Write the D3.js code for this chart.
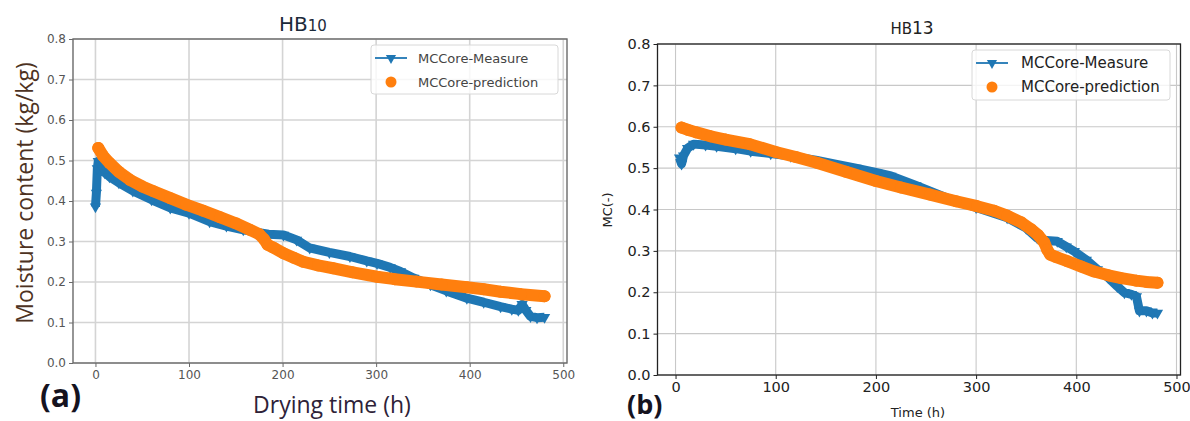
<!DOCTYPE html>
<html>
<head>
<meta charset="utf-8">
<script src="https://cdn.jsdelivr.net/npm/d3@7"></script>
<style>
  body { margin: 0; background: #fff; }
  svg { display: block; }
</style>
</head>
<body>
<svg id="chart" width="1190" height="421"></svg>
<script>
// HB10 - measured core moisture
const hb10MeasureTime = [0, 1, 2, 3, 5, 10, 15, 25, 40, 60, 80, 100, 122, 140, 158, 175, 185, 201, 215, 229, 250, 272, 290, 301, 315, 326, 340, 358, 375, 397, 415, 433, 445, 452, 456, 460, 465, 472, 480];
const hb10Measure = [0.386, 0.42, 0.48, 0.498, 0.49, 0.47, 0.46, 0.445, 0.425, 0.403, 0.383, 0.37, 0.349, 0.338, 0.329, 0.322, 0.318, 0.316, 0.304, 0.284, 0.273, 0.263, 0.252, 0.246, 0.236, 0.226, 0.21, 0.193, 0.178, 0.16, 0.15, 0.139, 0.133, 0.13, 0.145, 0.13, 0.115, 0.112, 0.113];
// HB10 - prediction
const hb10PredTime = [3, 8, 15, 25, 37, 50, 62, 80, 97, 115, 133, 150, 165, 175, 180, 184, 190, 201, 212, 222, 238, 254, 275, 301, 320, 343, 370, 397, 415, 433, 455, 480];
const hb10Pred = [0.531, 0.512, 0.494, 0.472, 0.452, 0.436, 0.424, 0.407, 0.391, 0.376, 0.36, 0.345, 0.329, 0.318, 0.306, 0.292, 0.285, 0.271, 0.26, 0.25, 0.241, 0.234, 0.224, 0.213, 0.207, 0.201, 0.194, 0.187, 0.182, 0.176, 0.17, 0.165];

// HB13 - measured core moisture
const hb13MeasureTime = [4, 6, 8, 12, 18, 30, 41, 60, 75, 95, 115, 140, 161, 180, 201, 215, 240, 271, 300, 331, 350, 361, 370, 381, 390, 398, 410, 421, 432, 441, 448, 455, 460, 463, 470, 476, 481];
const hb13Measure = [0.525, 0.51, 0.53, 0.548, 0.558, 0.556, 0.553, 0.547, 0.541, 0.535, 0.529, 0.519, 0.509, 0.5, 0.489, 0.481, 0.458, 0.428, 0.405, 0.38, 0.355, 0.331, 0.325, 0.323, 0.31, 0.299, 0.278, 0.255, 0.235, 0.214, 0.199, 0.195, 0.19, 0.155, 0.155, 0.15, 0.15];
// HB13 - prediction
const hb13PredTime = [6, 12, 20, 35, 50, 74, 100, 120, 141, 170, 200, 225, 254, 280, 301, 318, 331, 345, 355, 362, 368, 371, 374, 380, 391, 405, 418, 432, 445, 460, 470, 481];
const hb13Pred = [0.598, 0.593, 0.587, 0.577, 0.569, 0.558, 0.539, 0.527, 0.513, 0.491, 0.469, 0.453, 0.436, 0.42, 0.408, 0.397, 0.385, 0.369, 0.352, 0.338, 0.32, 0.303, 0.291, 0.285, 0.275, 0.262, 0.25, 0.241, 0.234, 0.228, 0.225, 0.223];

const xTicks = [0, 100, 200, 300, 400, 500];
const yTicks = [0, 0.1, 0.2, 0.3, 0.4, 0.5, 0.6, 0.7, 0.8];
const legendLabels = ['MCCore-Measure', 'MCCore-prediction'];

const BLUE = '#1f77b4';
const ORANGE = '#ff7f0e';

const svg = d3.select('#chart');
svg.append('rect').attr('width', 1190).attr('height', 421).attr('fill', '#fff');

class DryingPanel {
    constructor(_config, _measure, _pred) {
        this.config = _config;
        this.measure = _measure;
        this.pred = _pred;
        this.initVis();
    }

    initVis() {
        let vis = this;
        const c = vis.config;

        vis.xScale = d3.scaleLinear().domain(c.xDomain).range([c.left, c.right]);
        vis.yScale = d3.scaleLinear().domain([0, 0.8]).range([c.bottom, c.top]);

        vis.g = svg.append('g');

        // grid
        vis.g.append('g')
            .selectAll('line.vgrid')
            .data(xTicks)
            .join('line')
            .attr('x1', d => vis.xScale(d)).attr('x2', d => vis.xScale(d))
            .attr('y1', c.top).attr('y2', c.bottom)
            .attr('stroke', c.gridColor).attr('stroke-width', c.gridWidth);
        vis.g.append('g')
            .selectAll('line.hgrid')
            .data(yTicks)
            .join('line')
            .attr('y1', d => vis.yScale(d)).attr('y2', d => vis.yScale(d))
            .attr('x1', c.left).attr('x2', c.right)
            .attr('stroke', c.gridColor).attr('stroke-width', c.gridWidth);

        vis.renderVis();

        // frame
        vis.g.append('rect')
            .attr('x', c.left).attr('y', c.top)
            .attr('width', c.right - c.left).attr('height', c.bottom - c.top)
            .attr('fill', 'none').attr('stroke', c.frameColor).attr('stroke-width', c.frameWidth);

        // axes
        const xAxis = d3.axisBottom(vis.xScale).tickValues(xTicks).tickSize(4).tickPadding(3).tickFormat(d3.format('d'));
        const yAxis = d3.axisLeft(vis.yScale).tickValues(yTicks).tickSize(4).tickPadding(3).tickFormat(d3.format('.1f'));

        const xg = vis.g.append('g').attr('transform', `translate(0,${c.bottom})`).call(xAxis);
        const yg = vis.g.append('g').attr('transform', `translate(${c.left},0)`).call(yAxis);
        [xg, yg].forEach(a => {
            a.select('.domain').remove();
            a.attr('font-size', null).attr('font-family', null);
            a.selectAll('line').attr('stroke', c.frameColor);
            a.selectAll('text')
                .attr('fill', c.tickColor)
                .style('font-family', c.tickFont)
                .style('font-size', c.tickSize + 'px');
        });

        vis.renderLegend();
    }

    renderVis() {
        let vis = this;
        const line = d3.line()
            .x(d => vis.xScale(d.t))
            .y(d => vis.yScale(d.v));

        // measured: dense down-triangles joined by a line
        vis.g.append('path')
            .datum(vis.measure)
            .attr('d', line)
            .attr('fill', 'none')
            .attr('stroke', BLUE)
            .attr('stroke-width', 9)
            .attr('stroke-linejoin', 'round');
        vis.g.append('g')
            .selectAll('path')
            .data(vis.measure)
            .join('path')
            .attr('d', d3.symbol().type(d3.symbolTriangle).size(55))
            .attr('transform', d => `translate(${vis.xScale(d.t)},${vis.yScale(d.v)}) rotate(180)`)
            .attr('fill', BLUE);

        // prediction: dense circles
        vis.g.append('path')
            .datum(vis.pred)
            .attr('d', line)
            .attr('fill', 'none')
            .attr('stroke', ORANGE)
            .attr('stroke-width', 12)
            .attr('stroke-linecap', 'round')
            .attr('stroke-linejoin', 'round');
        vis.g.append('g')
            .selectAll('circle')
            .data(vis.pred)
            .join('circle')
            .attr('cx', d => vis.xScale(d.t))
            .attr('cy', d => vis.yScale(d.v))
            .attr('r', 6)
            .attr('fill', ORANGE);
    }

    renderLegend() {
        let vis = this;
        const L = vis.config.legend;
        const lg = vis.g.append('g');
        lg.append('rect')
            .attr('x', L.x).attr('y', L.y).attr('width', L.w).attr('height', L.h)
            .attr('rx', 3)
            .attr('fill', 'rgba(255,255,255,0.8)')
            .attr('stroke', '#d8d8d8');

        const y1 = L.y + L.row1, y2 = L.y + L.row2;
        lg.append('line')
            .attr('x1', L.x + 4).attr('x2', L.x + 36)
            .attr('y1', y1).attr('y2', y1)
            .attr('stroke', BLUE).attr('stroke-width', 1.8);
        lg.append('path')
            .attr('d', d3.symbol().type(d3.symbolTriangle).size(45))
            .attr('transform', `translate(${L.x + 20},${y1}) rotate(180)`)
            .attr('fill', BLUE);
        lg.append('circle')
            .attr('cx', L.x + 20).attr('cy', y2).attr('r', 5.5)
            .attr('fill', ORANGE);

        lg.selectAll('text')
            .data(legendLabels)
            .join('text')
            .attr('x', L.x + L.textDx)
            .attr('y', (d, i) => i === 0 ? y1 : y2)
            .attr('dy', '0.35em')
            .attr('fill', L.color)
            .style('font-family', L.font)
            .style('font-size', L.size + 'px')
            .text(d => d);
    }
}

const toPoints = (ts, vs) => ts.map((t, i) => ({ t: t, v: vs[i] }));

// ---- (a) HB10
new DryingPanel({
    left: 73, right: 567, top: 39, bottom: 363,
    xDomain: [-24, 504],
    gridColor: '#d4d4d4', gridWidth: 1.6,
    frameColor: '#6a6a6a', frameWidth: 1.4,
    tickColor: '#555', tickFont: 'DejaVu Sans', tickSize: 12,
    legend: { x: 371, y: 45, w: 187, h: 49, row1: 13, row2: 37, textDx: 47, color: '#444', font: 'DejaVu Sans', size: 13 }
}, toPoints(hb10MeasureTime, hb10Measure), toPoints(hb10PredTime, hb10Pred));

// ---- (b) HB13
new DryingPanel({
    left: 657.5, right: 1180.5, top: 44, bottom: 375,
    xDomain: [-18, 504],
    gridColor: '#c8c8c8', gridWidth: 1.1,
    frameColor: '#222', frameWidth: 1.3,
    tickColor: '#222', tickFont: 'DejaVu Sans', tickSize: 14.5,
    legend: { x: 972, y: 50, w: 198, h: 50, row1: 13, row2: 37, textDx: 49, color: '#222', font: 'DejaVu Sans', size: 15 }
}, toPoints(hb13MeasureTime, hb13Measure), toPoints(hb13PredTime, hb13Pred));

// titles
const t1 = svg.append('text').attr('x', 303).attr('y', 31).attr('text-anchor', 'middle')
    .attr('fill', '#1b2a3a').style('font-family', 'DejaVu Sans');
t1.append('tspan').style('font-size', '20px').text('HB');
t1.append('tspan').style('font-size', '15px').text('10');

const t2 = svg.append('text').attr('x', 912).attr('y', 34).attr('text-anchor', 'middle')
    .attr('fill', '#222').style('font-family', 'DejaVu Sans');
t2.append('tspan').style('font-size', '15px').text('HB');
t2.append('tspan').style('font-size', '17px').text('13');

// axis labels
svg.append('text')
    .attr('transform', 'translate(33,193) rotate(-90)')
    .attr('text-anchor', 'middle')
    .attr('fill', '#4d3222')
    .style('font-family', 'Open Sans')
    .style('font-size', '23px')
    .text('Moisture content (kg/kg)');

svg.append('text')
    .attr('x', 332).attr('y', 413)
    .attr('text-anchor', 'middle')
    .attr('fill', '#2e2238')
    .style('font-family', 'Open Sans')
    .style('font-size', '23px')
    .text('Drying time (h)');

svg.append('text')
    .attr('transform', 'translate(612,210) rotate(-90)')
    .attr('text-anchor', 'middle')
    .attr('fill', '#222')
    .style('font-family', 'DejaVu Sans')
    .style('font-size', '13px')
    .text('MC(-)');

svg.append('text')
    .attr('x', 918).attr('y', 417)
    .attr('text-anchor', 'middle')
    .attr('fill', '#222')
    .style('font-family', 'DejaVu Sans')
    .style('font-size', '13px')
    .text('Time (h)');

// panel letters
svg.append('text')
    .attr('x', 40).attr('y', 407)
    .attr('fill', '#15131f')
    .style('font-family', 'Open Sans')
    .style('font-weight', 'bold')
    .style('font-size', '32px')
    .text('(a)');

svg.append('text')
    .attr('x', 627).attr('y', 414)
    .attr('fill', '#15131f')
    .style('font-family', 'Open Sans')
    .style('font-weight', 'bold')
    .style('font-size', '27px')
    .text('(b)');
</script>
</body>
</html>
